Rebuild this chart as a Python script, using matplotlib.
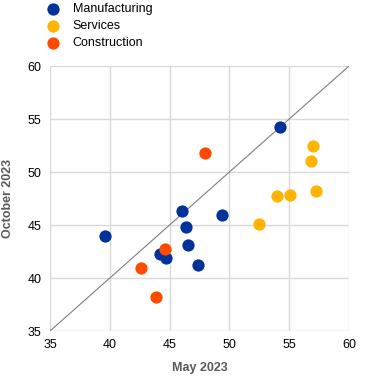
import matplotlib.pyplot as plt
import numpy as np

# May 2023 (x) vs October 2023 (y)
manuf_may = [39.6, 46.0, 46.4, 49.4, 46.5, 44.2, 44.7, 47.4, 54.2]
manuf_oct = [44.0, 46.3, 44.8, 45.9, 43.1, 42.3, 41.9, 41.2, 54.2]
serv_may = [57.0, 56.8, 57.2, 54.0, 55.1, 52.5]
serv_oct = [52.5, 51.0, 48.2, 47.7, 47.8, 45.1]
constr_may = [48.0, 42.6, 43.9, 44.6]
constr_oct = [51.8, 40.9, 38.2, 42.7]

plt.rcParams['font.family'] = ['Liberation Sans', 'DejaVu Sans']

fig = plt.figure(figsize=(3.72, 3.77), dpi=100)
ax = fig.add_axes([50/372, 1 - 331/377, 299/372, 265/377])

ax.plot([35, 60], [35, 60], color='#7f7f7f', lw=0.8, zorder=2)
ms = 78
ax.scatter(manuf_may, manuf_oct, s=ms, color='#003299', label='Manufacturing', zorder=3, linewidths=0)
ax.scatter(serv_may, serv_oct, s=ms, color='#ffb400', label='Services', zorder=3, linewidths=0)
ax.scatter(constr_may, constr_oct, s=ms, color='#ff4b00', label='Construction', zorder=4, linewidths=0)

ax.set_xlim(35, 60)
ax.set_ylim(35, 60)
ax.set_xticks(np.arange(35, 61, 5))
ax.set_yticks(np.arange(35, 61, 5))
ax.grid(True, color='#d9d9d9', lw=1)
ax.set_axisbelow(True)
for s in ax.spines.values():
    s.set_visible(False)
ax.tick_params(length=0, labelsize=9, pad=6, colors='black')

ax.set_xlabel('May 2023', fontsize=9, fontweight='bold', color='#595959', labelpad=8)
ax.set_ylabel('October 2023', fontsize=9, fontweight='bold', color='#595959', labelpad=10)

fig.legend(loc='upper left', bbox_to_anchor=(35/372, 1 + 2/377), frameon=False,
           fontsize=9, handletextpad=0.6, labelspacing=0.42, borderaxespad=0,
           markerscale=1.0)

fig.savefig('out.png', dpi=100)
